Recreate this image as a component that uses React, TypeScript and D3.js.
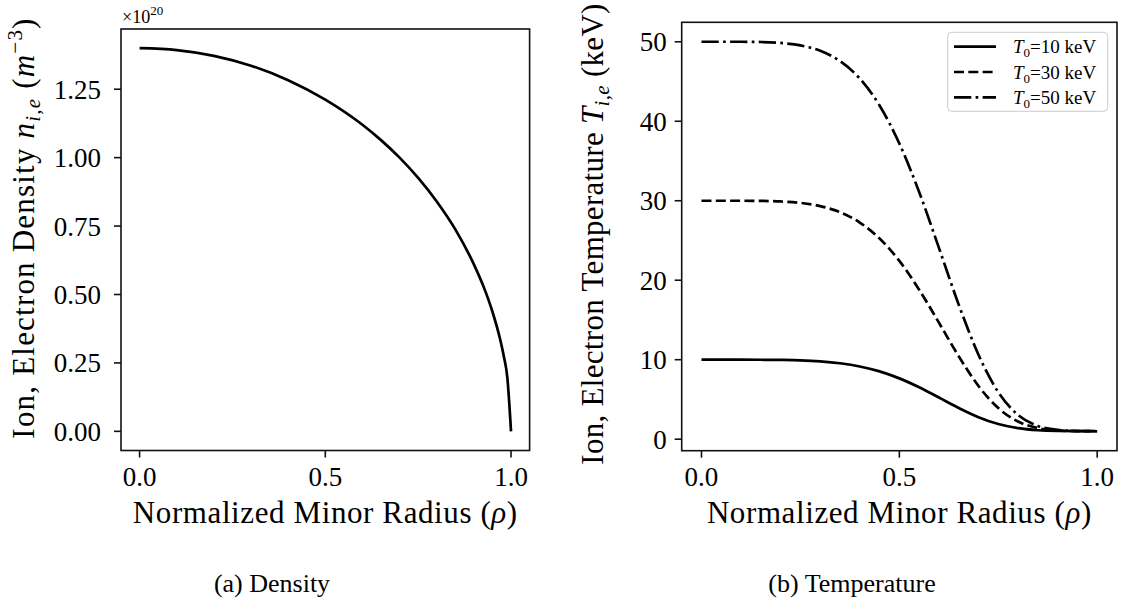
import React from "react";
import * as d3 from "d3";

// ---- Data ----
const densityRho = [0, 0.1, 0.2, 0.3, 0.4, 0.5, 0.6, 0.65, 0.7, 0.75, 0.8, 0.85, 0.9, 0.93, 0.95, 0.97, 0.98, 0.99, 1.0];
const densityVal = [1.4, 1.393, 1.372, 1.336, 1.283, 1.212, 1.12, 1.064, 1.0, 0.926, 0.84, 0.738, 0.61, 0.515, 0.437, 0.34, 0.278, 0.197, 0.0];

const tempRho = [0, 0.05, 0.1, 0.15, 0.2, 0.25, 0.3, 0.35, 0.4, 0.45, 0.5, 0.55, 0.6, 0.65, 0.7, 0.75, 0.8, 0.85, 0.9, 0.95, 1.0];
const temp10 = [10, 10, 10, 9.99, 9.97, 9.92, 9.79, 9.55, 9.15, 8.53, 7.65, 6.53, 5.24, 3.93, 2.77, 1.9, 1.38, 1.12, 1.03, 1.01, 1.0];
const temp30 = [30, 30, 30, 29.98, 29.91, 29.73, 29.32, 28.56, 27.26, 25.25, 22.43, 18.81, 14.66, 10.43, 6.69, 3.91, 2.22, 1.39, 1.1, 1.02, 1.0];
const temp50 = [50, 50, 50, 49.97, 49.85, 49.54, 48.86, 47.57, 45.37, 41.98, 37.2, 31.1, 24.07, 16.93, 10.62, 5.92, 3.05, 1.67, 1.16, 1.03, 1.0];

const xTicks = [0, 0.5, 1.0];
const densityTicks = [0, 0.25, 0.5, 0.75, 1.0, 1.25];
const tempTicks = [0, 10, 20, 30, 40, 50];
const legendLabels = ["=10 keV", "=30 keV", "=50 keV"];

const FONT = "'Liberation Serif', 'DejaVu Serif', serif";
const INK = "#111";

export default function App() {
  // Left panel
  const L = { left: 121, right: 529.6, top: 29, bottom: 450.5 };
  const xL = d3.scaleLinear().domain([-0.05, 1.05]).range([L.left, L.right]);
  const yL = d3.scaleLinear().domain([-0.07, 1.47]).range([L.bottom, L.top]);
  // Right panel
  const R = { left: 681.7, right: 1117, top: 22.3, bottom: 450.7 };
  const xR = d3.scaleLinear().domain([-0.05, 1.05]).range([R.left, R.right]);
  const yR = d3.scaleLinear().domain([-1.45, 52.45]).range([R.bottom, R.top]);

  const densLine = d3
    .line<number>()
    .x((_, i) => xL(densityRho[i]))
    .y((d) => yL(d))
    .curve(d3.curveMonotoneX);

  const tLine = d3
    .line<number>()
    .x((_, i) => xR(tempRho[i]))
    .y((d) => yR(d))
    .curve(d3.curveMonotoneX);

  const lw = 2.7;
  const series = [
    { vals: temp10, dash: undefined as string | undefined },
    { vals: temp30, dash: `${3.7 * lw},${1.6 * lw}` },
    { vals: temp50, dash: `${6.4 * lw},${1.6 * lw},${1 * lw},${1.6 * lw}` },
  ];

  const tickFs = 27;
  const labFs = 31;

  return (
    <svg
      width={1123}
      height={603}
      style={{ position: "absolute", left: 0, top: 0, background: "#fff" }}
      fontFamily={FONT}
    >
      <rect x={0} y={0} width={1123} height={603} fill="#fff" />

      {/* ---------- Left panel ---------- */}
      <path d={densLine(densityVal) || ""} fill="none" stroke="#000" strokeWidth={lw} strokeLinejoin="round" />
      <rect x={L.left} y={L.top} width={L.right - L.left} height={L.bottom - L.top} fill="none" stroke={INK} strokeWidth={1.6} />
      {densityTicks.map((t) => (
        <g key={"ly" + t}>
          <line x1={L.left - 7} x2={L.left} y1={yL(t)} y2={yL(t)} stroke={INK} strokeWidth={1.6} />
          <text x={L.left - 20} y={yL(t)} dy="0.35em" textAnchor="end" fontSize={tickFs} fill="#000">
            {d3.format(".2f")(t)}
          </text>
        </g>
      ))}
      {xTicks.map((t) => (
        <g key={"lx" + t}>
          <line x1={xL(t)} x2={xL(t)} y1={L.bottom} y2={L.bottom + 7} stroke={INK} strokeWidth={1.6} />
          <text x={xL(t)} y={486} textAnchor="middle" fontSize={tickFs} fill="#000">
            {d3.format(".1f")(t)}
          </text>
        </g>
      ))}
      <text x={122} y={23} fontSize={18} fill="#000">
        ×10<tspan dy={-8} fontSize={13}>20</tspan>
      </text>
      <text x={(L.left + L.right) / 2} y={523} textAnchor="middle" fontSize={labFs} letterSpacing={0.6} fill="#000">
        Normalized Minor Radius (<tspan fontStyle="italic">ρ</tspan>)
      </text>
      <text transform={`translate(34,228) rotate(-90)`} textAnchor="middle" fontSize={labFs} letterSpacing={1.2} fill="#000">
        Ion, Electron Density <tspan fontStyle="italic">n</tspan>
        <tspan fontSize={21} dy={6} fontStyle="italic">i,e</tspan>
        <tspan dy={-6}> (</tspan>
        <tspan fontStyle="italic">m</tspan>
        <tspan fontSize={21} dy={-12}>−3</tspan>
        <tspan dy={12}>)</tspan>
      </text>
      <text x={272} y={592} textAnchor="middle" fontSize={26} fill="#000">
        (a) Density
      </text>

      {/* ---------- Right panel ---------- */}
      {series.map((s, i) => (
        <path
          key={"s" + i}
          d={tLine(s.vals) || ""}
          fill="none"
          stroke="#000"
          strokeWidth={lw}
          strokeDasharray={s.dash}
        />
      ))}
      <rect x={R.left} y={R.top} width={R.right - R.left} height={R.bottom - R.top} fill="none" stroke={INK} strokeWidth={1.6} />
      {tempTicks.map((t) => (
        <g key={"ry" + t}>
          <line x1={R.left - 7} x2={R.left} y1={yR(t)} y2={yR(t)} stroke={INK} strokeWidth={1.6} />
          <text x={R.left - 15} y={yR(t)} dy="0.35em" textAnchor="end" fontSize={tickFs} fill="#000">
            {t}
          </text>
        </g>
      ))}
      {xTicks.map((t) => (
        <g key={"rx" + t}>
          <line x1={xR(t)} x2={xR(t)} y1={R.bottom} y2={R.bottom + 7} stroke={INK} strokeWidth={1.6} />
          <text x={xR(t)} y={486} textAnchor="middle" fontSize={tickFs} fill="#000">
            {d3.format(".1f")(t)}
          </text>
        </g>
      ))}
      <text x={(R.left + R.right) / 2} y={523} textAnchor="middle" fontSize={labFs} letterSpacing={0.6} fill="#000">
        Normalized Minor Radius (<tspan fontStyle="italic">ρ</tspan>)
      </text>
      <text transform={`translate(603,234) rotate(-90)`} textAnchor="middle" fontSize={labFs} letterSpacing={0.3} fill="#000">
        Ion, Electron Temperature <tspan fontStyle="italic">T</tspan>
        <tspan fontSize={21} dy={6} fontStyle="italic">i,e</tspan>
        <tspan dy={-6}> (keV)</tspan>
      </text>
      <text x={852} y={592} textAnchor="middle" fontSize={26} fill="#000">
        (b) Temperature
      </text>

      {/* Legend */}
      <rect x={947.7} y={32.3} width={160} height={79} rx={4} fill="#fff" fillOpacity={0.8} stroke="#ccc" strokeWidth={1} />
      {series.map((s, i) => {
        const yy = 46.7 + i * 25.3;
        return (
          <g key={"lg" + i}>
            <line x1={954} x2={996} y1={yy} y2={yy} stroke="#000" strokeWidth={lw} strokeDasharray={s.dash} />
            <text x={1013} y={yy} dy="0.35em" fontSize={19} fill="#000">
              <tspan fontStyle="italic">T</tspan>
              <tspan fontSize={13} dy={4}>0</tspan>
              <tspan dy={-4}>{legendLabels[i]}</tspan>
            </text>
          </g>
        );
      })}
    </svg>
  );
}
